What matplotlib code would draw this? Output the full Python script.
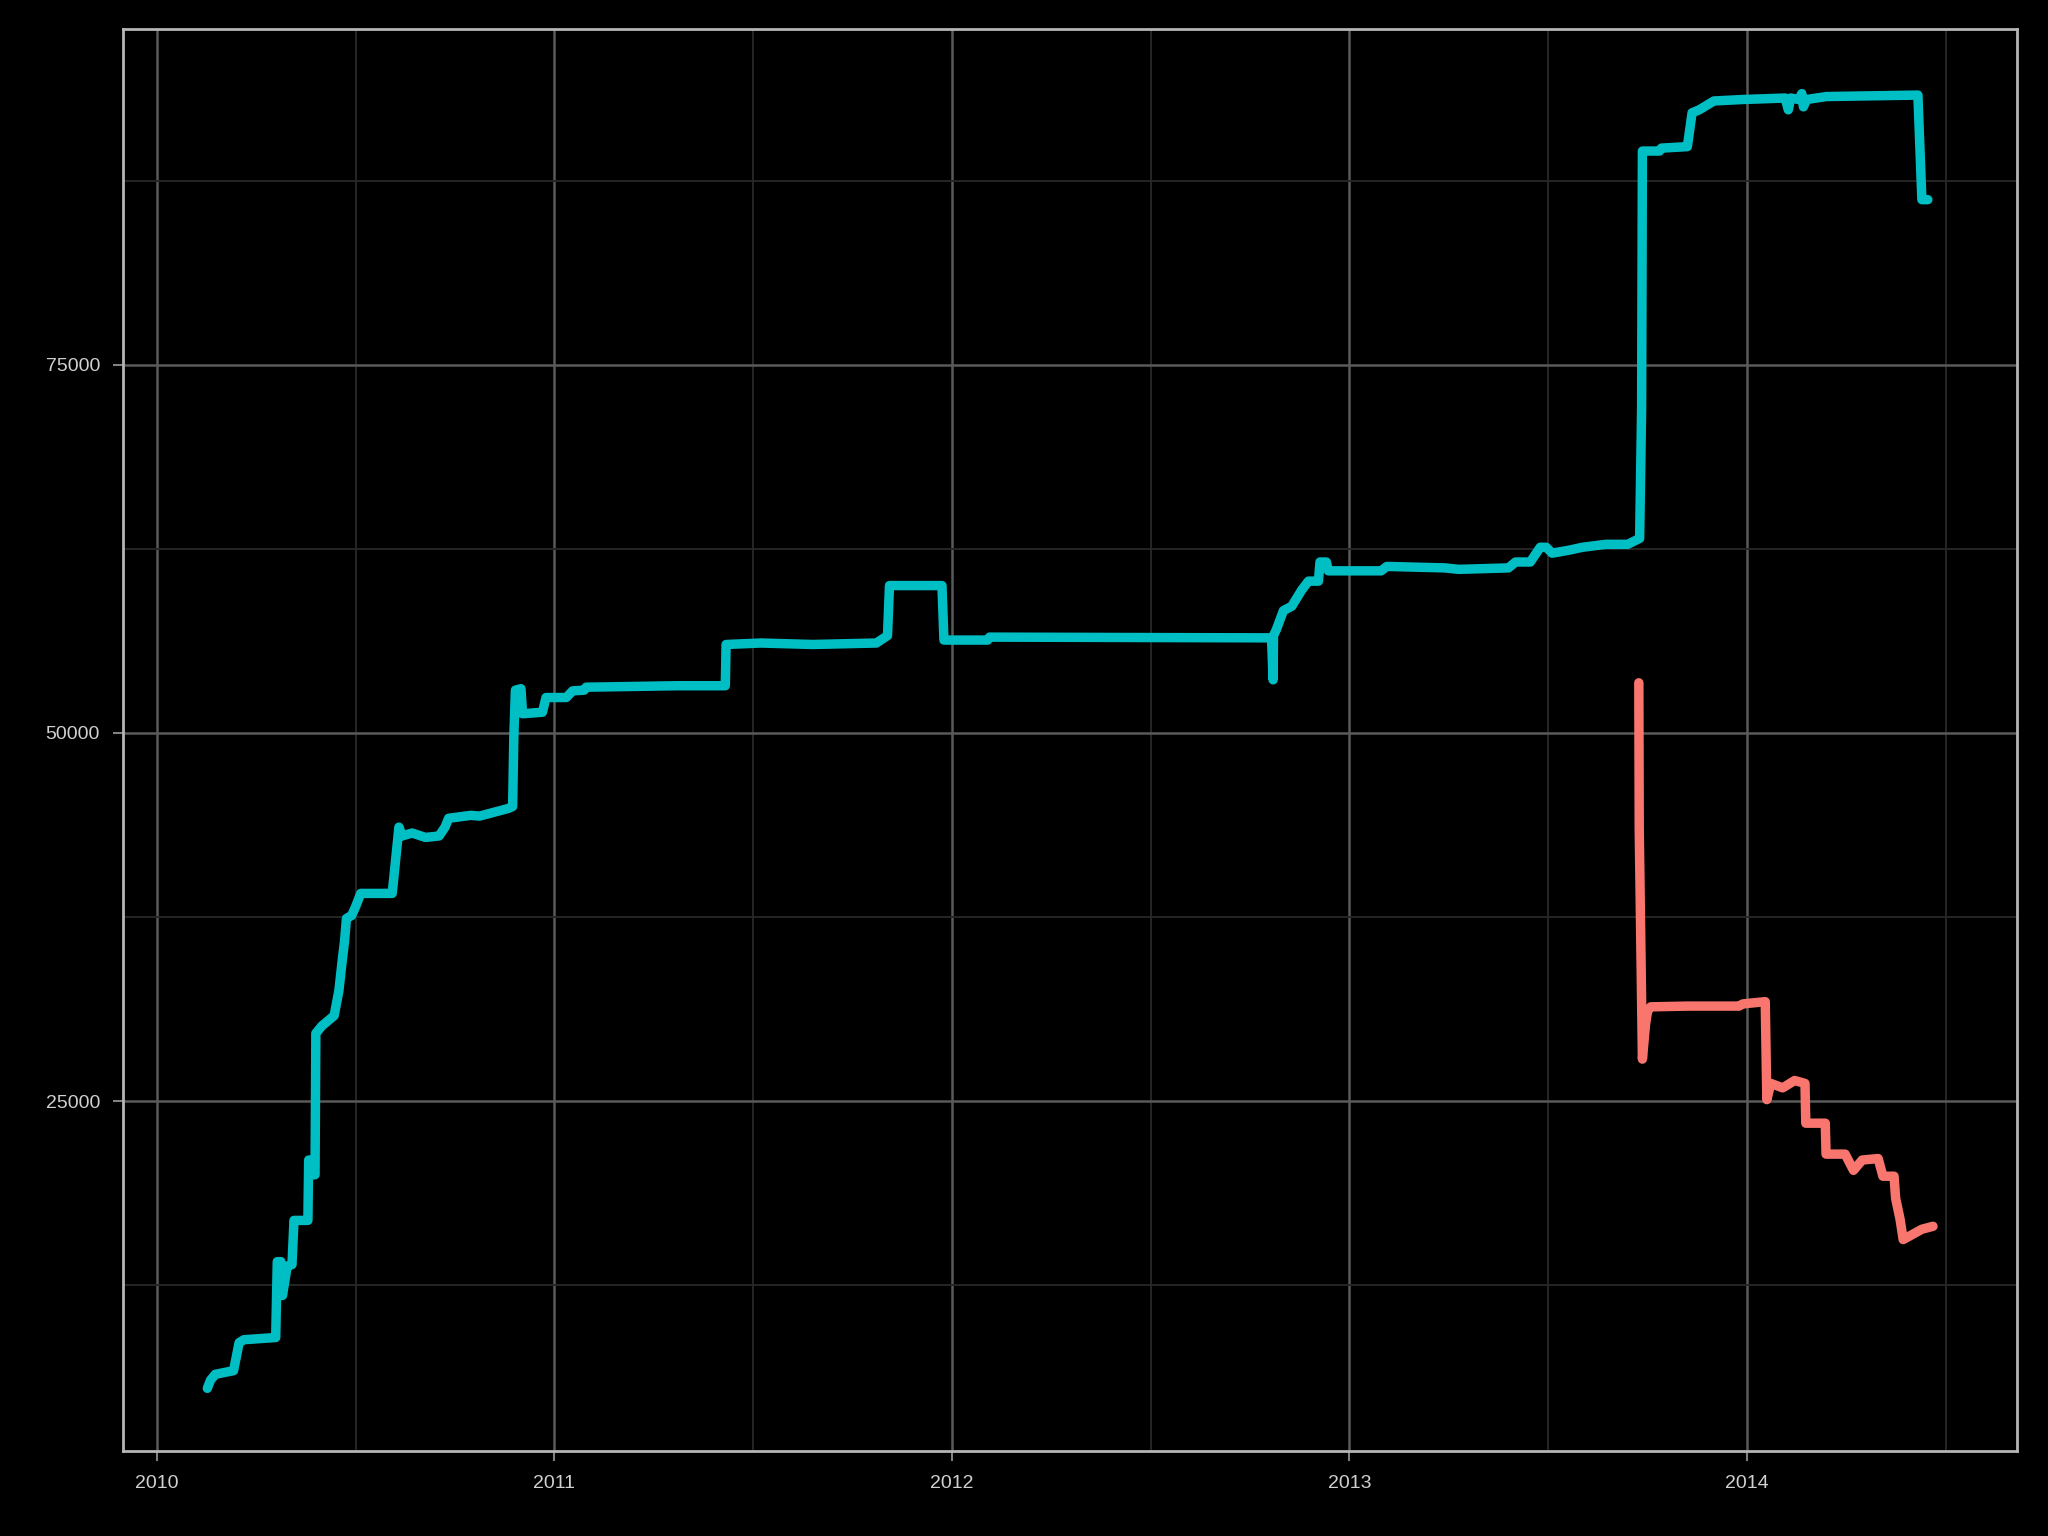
import matplotlib
matplotlib.use("Agg")
import matplotlib.pyplot as plt
from matplotlib.ticker import FixedLocator, FixedFormatter

# ---- data (decimal years, values) ----
teal_x = [2010.127, 2010.135, 2010.147, 2010.193, 2010.207, 2010.219, 2010.299, 2010.303,
          2010.312, 2010.316, 2010.328, 2010.340, 2010.345, 2010.380, 2010.382, 2010.390,
          2010.392, 2010.398, 2010.400, 2010.415, 2010.446, 2010.458, 2010.467, 2010.472,
          2010.477, 2010.490, 2010.500, 2010.513, 2010.592, 2010.597, 2010.609, 2010.617,
          2010.642, 2010.676, 2010.710, 2010.725, 2010.734, 2010.790, 2010.812, 2010.883,
          2010.895, 2010.898, 2010.902, 2010.916, 2010.920, 2010.970, 2010.979, 2011.030,
          2011.046, 2011.075, 2011.080, 2011.310, 2011.430, 2011.432, 2011.520, 2011.650,
          2011.810, 2011.838, 2011.843, 2011.975, 2011.980, 2012.090, 2012.095, 2012.804,
          2012.808, 2012.809, 2012.816, 2012.834, 2012.855, 2012.880, 2012.897, 2012.922,
          2012.926, 2012.942, 2012.947, 2013.080, 2013.094, 2013.240, 2013.275, 2013.400,
          2013.418, 2013.455, 2013.480, 2013.495, 2013.510, 2013.552, 2013.586, 2013.645,
          2013.700, 2013.730, 2013.735, 2013.737, 2013.780, 2013.785, 2013.850, 2013.862,
          2013.880, 2013.917, 2013.990, 2014.096, 2014.104, 2014.110, 2014.130, 2014.138,
          2014.142, 2014.150, 2014.200, 2014.430, 2014.440, 2014.455]
teal_y = [5500, 6050, 6450, 6700, 8600, 8800, 8950, 14100,
          14100, 11800, 13800, 13900, 16900, 16900, 21000, 21000,
          20000, 20000, 29600, 30100, 30800, 32500, 34700, 35800,
          37400, 37600, 38200, 39100, 39100, 40400, 43600, 43000,
          43200, 42900, 43000, 43600, 44200, 44400, 44350, 44860,
          45000, 49700, 52900, 53000, 51300, 51400, 52400, 52400,
          52850, 52900, 53100, 53200, 53200, 56000, 56100, 56000,
          56100, 56600, 60000, 60000, 56300, 56300, 56500, 56450,
          53600, 56600, 57000, 58300, 58600, 59700, 60300, 60300,
          61600, 61600, 61000, 61000, 61300, 61200, 61100, 61200,
          61600, 61600, 62600, 62600, 62200, 62400, 62600, 62800,
          62800, 63200, 72000, 89500, 89500, 89700, 89800, 92100,
          92300, 92900, 93000, 93100, 92300, 93100, 93000, 93400,
          92500, 93000, 93200, 93300, 86200, 86200]

red_x = [2013.728, 2013.729, 2013.737, 2013.745, 2013.750, 2013.758, 2013.850, 2013.980,
         2013.990, 2014.046, 2014.050, 2014.060, 2014.090, 2014.120, 2014.146, 2014.148,
         2014.197, 2014.199, 2014.247, 2014.268, 2014.290, 2014.330, 2014.342, 2014.370,
         2014.374, 2014.385, 2014.393, 2014.440, 2014.468]
red_y = [53400, 43500, 27850, 30250, 31100, 31400, 31450, 31450,
         31600, 31750, 25100, 26200, 25900, 26400, 26200, 23500,
         23500, 21400, 21400, 20300, 21000, 21100, 19900, 19900,
         18400, 17000, 15600, 16300, 16500]

x_ticks = [2010, 2011, 2012, 2013, 2014]
x_tick_labels = ["2010", "2011", "2012", "2013", "2014"]
x_minor = [2010.5, 2011.5, 2012.5, 2013.5, 2014.5]
y_ticks = [25000, 50000, 75000]
y_tick_labels = ["25000", "50000", "75000"]
y_minor = [12500, 37500, 62500, 87500]

TEAL = "#00BFC4"
RED = "#F8766D"

plt.rcParams['font.family'] = ['Liberation Sans', 'DejaVu Sans']

fig = plt.figure(figsize=(20.48, 15.36), dpi=100, facecolor="black")
ax = fig.add_axes([0.060, 0.0553, 0.925, 0.9258])
ax.set_facecolor("black")

ax.plot(teal_x, teal_y, color=TEAL, lw=6.8, solid_capstyle="round",
        solid_joinstyle="round", zorder=3)
ax.plot(red_x, red_y, color=RED, lw=6.8, solid_capstyle="round",
        solid_joinstyle="round", zorder=3)

ax.set_xlim(2009.9146, 2014.68)
ax.set_ylim(1241, 97784)

ax.xaxis.set_major_locator(FixedLocator(x_ticks))
ax.xaxis.set_major_formatter(FixedFormatter(x_tick_labels))
ax.xaxis.set_minor_locator(FixedLocator(x_minor))
ax.yaxis.set_major_locator(FixedLocator(y_ticks))
ax.yaxis.set_major_formatter(FixedFormatter(y_tick_labels))
ax.yaxis.set_minor_locator(FixedLocator(y_minor))

ax.grid(which="major", color="#5a5a5a", lw=1.8, zorder=1)
ax.grid(which="minor", color="#262626", lw=1.4, zorder=1)
ax.set_axisbelow(True)

ax.tick_params(which="major", length=7.5, width=1.5, color="#808080",
               labelcolor="#d0d0d0", labelsize=14)
ax.tick_params(axis="y", which="major", pad=9)
ax.tick_params(axis="x", which="major", pad=10)
ax.tick_params(which="minor", length=0)

for s in ax.spines.values():
    s.set_color("#b5b5b5")
    s.set_linewidth(2.0)

fig.savefig("out.png", dpi=100, facecolor="black")
